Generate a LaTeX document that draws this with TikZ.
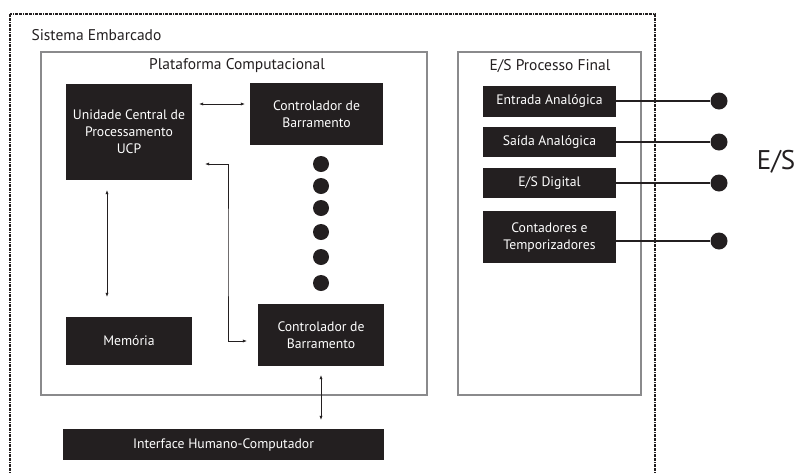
\documentclass[tikz,border=0pt]{standalone}
\usepackage{fontspec}
\setmainfont{PT Sans}
\usetikzlibrary{arrows.meta}

\definecolor{preto}{HTML}{231F20}
\definecolor{borda}{HTML}{8A8A8C}

\tikzset{
  bloco/.style={fill=preto,text=white,inner sep=0pt,align=center,
    font=\fontsize{13.7}{17}\selectfont},
  caixa/.style={draw=borda,line width=1.4pt},
  titulo/.style={font=\fontsize{15.5}{18}\selectfont,text=preto},
  seta/.style={<->,>={Latex[length=4pt,width=3.2pt]},line width=0.6pt,draw=preto},
  ponto/.style={circle,fill=preto,inner sep=0pt,minimum size=16pt}
}

\begin{document}
\begin{tikzpicture}[x=1pt,y=-1pt]
  \useasboundingbox (0,0) rectangle (797,472);
  \clip (0,0) rectangle (797,472);

  % sistema embarcado (tracejado)
  \draw[line width=1.5pt,dash pattern=on 3pt off 1pt on 3pt off 1pt on 1pt off 1pt,preto]
    (10,14) rectangle (655,490);
  \node[titulo,anchor=west] (sis) at (28,35) {Sistema Embarcado};

  % plataforma computacional
  \draw[caixa] (41,52) rectangle (427,395);
  \node[titulo] (plat) at (237,66) {Plataforma Computacional};

  \draw (129,132) node[bloco,minimum width=126pt,minimum height=96pt] (ucp)
    {Unidade Central de\\Processamento\\UCP};
  \draw (316.5,114) node[bloco,minimum width=133pt,minimum height=62pt] (ctrla)
    {Controlador de\\Barramento};
  \draw (321,335) node[bloco,minimum width=126pt,minimum height=62pt] (ctrlb)
    {Controlador de\\Barramento};
  \draw (129,341) node[bloco,minimum width=126pt,minimum height=48pt] (mem)
    {Memória};
  \draw (223.5,444.5) node[bloco,minimum width=321pt,minimum height=31pt] (ihc)
    {Interface Humano-Computador};

  % reticencias entre os controladores
  \foreach \y [count=\i] in {164,186,208,232,257,283}
    \node[ponto] (r\i) at (321,\y) {};

  \draw[seta,shorten <=7pt,shorten >=5pt] (ucp.east |- 0,104) -- (ctrla.west |- 0,104);
  \draw[seta,shorten <=10pt,shorten >=20pt] (ucp.south -| 107,0) -- (mem.north -| 107,0);
  \draw[seta,shorten <=13pt,shorten >=11pt] (ucp.east |- 0,164) -| (228,252) |- (ctrlb.west |- 0,341);
  \draw[seta,shorten <=9pt,shorten >=9pt] (ctrlb.south) -- (ctrlb.south |- ihc.north);

  % E/S processo final
  \draw[caixa] (458,52) rectangle (641,395);
  \node[titulo] (es) at (550,66) {E/S Processo Final};

  \draw (549.5,101.5) node[bloco,minimum width=133pt,minimum height=31pt] (ent) {Entrada Analógica};
  \draw (549.5,142) node[bloco,minimum width=133pt,minimum height=30pt] (sai) {Saída Analógica};
  \draw (549.5,183) node[bloco,minimum width=133pt,minimum height=30pt] (dig) {E/S Digital};
  \draw (549.5,237) node[bloco,minimum width=133pt,minimum height=52pt] (cont)
    {Contadores e\\Temporizadores};

  \node[ponto,minimum size=17pt] (pa) at (719,101) {};
  \node[ponto,minimum size=17pt] (pb) at (719,142) {};
  \node[ponto,minimum size=17pt] (pc) at (719,183) {};
  \node[ponto,minimum size=17pt] (pd) at (719,241) {};

  \draw[line width=1.2pt,preto] (ent.east |- pa) -- (pa);
  \draw[line width=1.2pt,preto] (sai.east |- pb) -- (pb);
  \draw[line width=1.2pt,preto] (dig.east |- pc) -- (pc);
  \draw[line width=1.2pt,preto] (cont.east |- pd) -- (pd);

  \node[font=\fontsize{27}{30}\selectfont,text=preto] (saida) at (776,162) {E/S};

\end{tikzpicture}
\end{document}
